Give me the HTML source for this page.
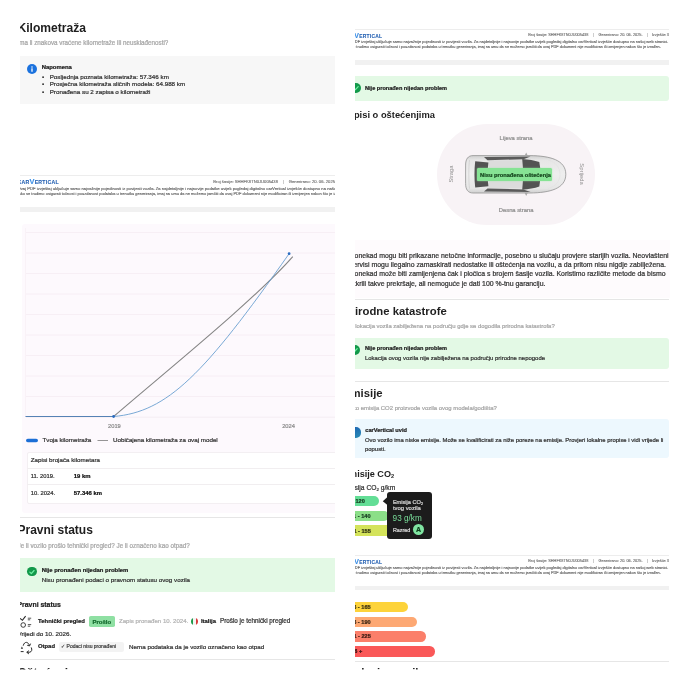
<!DOCTYPE html>
<html><head><meta charset="utf-8">
<style>
*{margin:0;padding:0;box-sizing:border-box}
html,body{width:690px;height:690px;background:#fff;overflow:hidden}
body{position:relative;font-family:"Liberation Sans",Arial,sans-serif;color:#222}
.col{position:absolute;left:0;top:0;width:690px;height:690px;overflow:hidden}
#L{clip-path:inset(20px 355px 20.5px 20px)}
#R{clip-path:inset(20px 20px 20.5px 355px)}
.a{position:absolute;white-space:nowrap;line-height:1}
.box{position:absolute}
.logo{font-weight:700;color:#2561b3;letter-spacing:0.25px;-webkit-text-stroke:0.1px #2561b3}
.lv{color:#3a8ee6;-webkit-text-stroke:0.1px #3a8ee6}
svg text{font-family:"Liberation Sans",Arial,sans-serif}
</style></head><body>
<div class="col" id="L">
<div class="a" style="left:17.50px;top:22.00px;font-size:12.1px;font-weight:700;color:#1e1e1e;">Kilometraža</div>
<div class="a" style="left:17.50px;top:40.00px;font-size:6.28px;-webkit-text-stroke:0.22px #a6a6a6;color:#a6a6a6;">Ima li znakova vraćene kilometraže ili neusklađenosti?</div>
<div class="box" style="left:17.5px;top:55.5px;width:345px;height:48.5px;background:#f7f7f7;border-radius:3px;"></div>
<div class="box" style="left:26.70px;top:63.70px;width:10px;height:10px;background:#1b72de;border-radius:50%"></div>
<svg class="a" style="left:26.7px;top:63.7px" width="10" height="10" viewBox="0 0 10 10"><circle cx="5" cy="2.9" r="0.75" fill="#fff"/><rect x="4.35" y="4.2" width="1.3" height="3.6" rx="0.4" fill="#fff"/></svg>
<div class="a" style="left:41.70px;top:65.00px;font-size:5.92px;font-weight:700;-webkit-text-stroke:0.22px #222;color:#222;">Napomena</div>
<div class="a" style="left:42.00px;top:74.00px;font-size:6.25px;-webkit-text-stroke:0.22px #222;color:#222;">•</div>
<div class="a" style="left:49.70px;top:74.00px;font-size:6.25px;-webkit-text-stroke:0.22px #333;color:#333;">Posljednja poznata kilometraža: 57.346 km</div>
<div class="a" style="left:42.00px;top:81.00px;font-size:6.25px;-webkit-text-stroke:0.22px #222;color:#222;">•</div>
<div class="a" style="left:49.70px;top:81.00px;font-size:6.25px;-webkit-text-stroke:0.22px #333;color:#333;">Prosječna kilometraža sličnih modela: 64.988 km</div>
<div class="a" style="left:42.00px;top:89.00px;font-size:6.25px;-webkit-text-stroke:0.22px #222;color:#222;">•</div>
<div class="a" style="left:49.70px;top:89.00px;font-size:6.25px;-webkit-text-stroke:0.22px #333;color:#333;">Pronađena su 2 zapisa o kilometraži</div>
<div class="box" style="left:17.5px;top:175.0px;width:345px;height:1px;background:#ededed"></div>
<div class="a logo" style="left:17.5px;top:178px;font-size:7.41px"><span style="font-size:5.18px">CAR</span><span class="lv">V</span><span style="font-size:5.18px">ERTICAL</span></div>
<div class="a" style="left:213.3px;top:180px;font-size:4.18px;color:#6f6f6f;-webkit-text-stroke:0.12px #6f6f6f">Broj šasije: SHHFK8TN0JU005438<span style="display:inline-block;width:4.87px"></span><span style="color:#cfcfcf">|</span><span style="display:inline-block;width:4.87px"></span>Generirano: 20. 06. 2025.<span style="display:inline-block;width:4.87px"></span><span style="color:#cfcfcf">|</span><span style="display:inline-block;width:3.81px"></span>Izvješće 3</div>
<svg class="a" style="left:0;top:0;overflow:visible" width="1" height="1"><text x="17.5" y="189.6" font-size="3.95" fill="#5c5c5c" stroke="#5c5c5c" stroke-width="0.12" textLength="344" lengthAdjust="spacingAndGlyphs">Ovaj PDF izvještaj uključuje samo najvažnije pojedinosti iz povijesti vozila. Za najdetaljnije i najnovije podatke uvijek pogledaj digitalno carVertical izvješće dostupno na našoj web stranici.</text></svg>
<svg class="a" style="left:0;top:0;overflow:visible" width="1" height="1"><text x="17.5" y="194.6" font-size="3.95" fill="#5c5c5c" stroke="#5c5c5c" stroke-width="0.12" textLength="330" lengthAdjust="spacingAndGlyphs">Iako se trudimo osigurati točnost i pouzdanost podataka u trenutku generiranja, imaj na umu da ne možemo jamčiti da ovaj PDF dokument nije modificiran ili izmijenjen nakon što je izrađen.</text></svg>
<div class="box" style="left:17.5px;top:207.0px;width:345px;height:4.8668px;background:#f1f1f1;border-radius:0px;"></div>
<div class="box" style="left:22px;top:224px;width:345px;height:289px;background:#fdf9fd;border-radius:3px;"></div>
<svg class="a" style="left:0;top:0" width="690" height="690" viewBox="0 0 690 690">
<g stroke="#f5ecf3" stroke-width="0.8"><line x1="26" y1="232.5" x2="362" y2="232.5"/><line x1="26" y1="253.0" x2="362" y2="253.0"/><line x1="26" y1="273.5" x2="362" y2="273.5"/><line x1="26" y1="294.0" x2="362" y2="294.0"/><line x1="26" y1="314.5" x2="362" y2="314.5"/><line x1="26" y1="335.0" x2="362" y2="335.0"/><line x1="26" y1="355.5" x2="362" y2="355.5"/><line x1="26" y1="376.0" x2="362" y2="376.0"/><line x1="26" y1="396.5" x2="362" y2="396.5"/></g>
<line x1="25.5" y1="228" x2="25.5" y2="417" stroke="#f7f0f5" stroke-width="0.8"/>
<line x1="26" y1="417.2" x2="362" y2="417.2" stroke="#f3ebf1" stroke-width="0.8"/>
<path d="M113.6,416.5 C164.9,372.2 255,299.6 292.8,256.6" fill="none" stroke="#858585" stroke-width="1.1"/>
<path d="M25.5,416.5 L113.6,416.5" fill="none" stroke="#5582b5" stroke-width="1.2"/>
<path d="M113.6,416.5 C167.4,412.1 204.4,374.2 289.1,253.7" fill="none" stroke="#6a9fd0" stroke-width="0.9"/>
<circle cx="113.6" cy="416.5" r="1.4" fill="#2b6cc0"/>
<circle cx="289.1" cy="253.7" r="1.4" fill="#2b6cc0"/>
<rect x="26" y="438.7" width="12" height="3.6" rx="1.8" fill="#1c6fd6"/>
<line x1="97.5" y1="440.5" x2="108" y2="440.5" stroke="#7a7a7a" stroke-width="0.8"/>
</svg>
<div class="a" style="left:14.40px;width:200px;text-align:center;top:424.00px;font-size:5.73px;-webkit-text-stroke:0.22px #8c8c8c;color:#8c8c8c;">2019</div>
<div class="a" style="left:188.50px;width:200px;text-align:center;top:424.00px;font-size:5.73px;-webkit-text-stroke:0.22px #8c8c8c;color:#8c8c8c;">2024</div>
<div class="a" style="left:42.50px;top:437.00px;font-size:6.22px;-webkit-text-stroke:0.22px #333;color:#333;">Tvoja kilometraža</div>
<div class="a" style="left:113.00px;top:437.00px;font-size:6.22px;-webkit-text-stroke:0.22px #333;color:#333;">Uobičajena kilometraža za ovaj model</div>
<div class="box" style="left:26.5px;top:451.5px;width:330px;height:52.5px;background:#fff;border-radius:2px;border:0.7px solid #f3eff2"></div>
<div class="box" style="left:27px;top:468.3px;width:330px;height:1px;background:#f1eef0"></div>
<div class="box" style="left:27px;top:484.3px;width:330px;height:1px;background:#f1eef0"></div>
<div class="a" style="left:30.80px;top:457.00px;font-size:6.23px;-webkit-text-stroke:0.22px #333;color:#333;">Zapisi brojača kilometara</div>
<div class="a" style="left:30.80px;top:474.00px;font-size:5.85px;-webkit-text-stroke:0.22px #333;color:#333;">11. 2019.</div>
<div class="a" style="left:73.80px;top:474.00px;font-size:5.9px;font-weight:700;-webkit-text-stroke:0.22px #111;color:#111;">19 km</div>
<div class="a" style="left:30.80px;top:491.00px;font-size:5.85px;-webkit-text-stroke:0.22px #333;color:#333;">10. 2024.</div>
<div class="a" style="left:73.80px;top:491.00px;font-size:5.9px;font-weight:700;-webkit-text-stroke:0.22px #111;color:#111;">57.346 km</div>
<div class="box" style="left:17.5px;top:517.0px;width:345px;height:1px;background:#e6e6e6"></div>
<div class="a" style="left:17.50px;top:524.00px;font-size:12.0px;font-weight:700;color:#1e1e1e;">Pravni status</div>
<div class="a" style="left:17.50px;top:543.00px;font-size:6.3px;-webkit-text-stroke:0.22px #a6a6a6;color:#a6a6a6;">Je li vozilo prošlo tehnički pregled? Je li označeno kao otpad?</div>
<div class="box" style="left:17.5px;top:558.3px;width:345px;height:33.4px;background:#e3f9e5;border-radius:3px;"></div>
<div class="box" style="left:26.80px;top:566.60px;width:9.8px;height:9.8px;background:#12994a;border-radius:50%"></div>
<svg class="a" style="left:26.80px;top:566.60px" width="9.8" height="9.8" viewBox="0 0 10 10"><path d="M2.9,5.2 L4.4,6.7 L7.2,3.6" fill="none" stroke="#6ff0a4" stroke-width="1.25" stroke-linecap="round" stroke-linejoin="round"/></svg>
<div class="a" style="left:41.70px;top:568.00px;font-size:5.92px;font-weight:700;-webkit-text-stroke:0.22px #1d1d1d;color:#1d1d1d;">Nije pronađen nijedan problem</div>
<div class="a" style="left:41.70px;top:577.00px;font-size:6.26px;-webkit-text-stroke:0.22px #333;color:#333;">Nisu pronađeni podaci o pravnom statusu ovog vozila</div>
<div class="a" style="left:17.50px;top:602.00px;font-size:6.9px;font-weight:700;-webkit-text-stroke:0.22px #222;color:#222;">Pravni status</div>
<svg class="a" style="left:18px;top:614.5px" width="16" height="14" viewBox="0 0 16 14">
<path d="M2.1,3.4 L4.4,5.3 L7.6,1.1" fill="none" stroke="#2a2a2a" stroke-width="1.1"/>
<path d="M9.8,3.2 H13.2 M9.8,4.8 H12.2" stroke="#2a2a2a" stroke-width="0.8"/>
<circle cx="5.2" cy="10" r="2.3" fill="none" stroke="#2a2a2a" stroke-width="0.9"/>
<path d="M9.8,9.6 H13.2 M9.8,11.2 H12.2" stroke="#2a2a2a" stroke-width="0.8"/>
</svg>
<div class="a" style="left:38.00px;top:619.00px;font-size:5.97px;font-weight:700;-webkit-text-stroke:0.22px #222;color:#222;">Tehnički pregled</div>
<div class="box" style="left:88.7px;top:616.2px;width:26.3px;height:10.5px;background:#8fe0a3;border-radius:1.8px;"></div>
<div class="a" style="left:1.85px;width:200px;text-align:center;top:619.00px;font-size:6.0px;font-weight:700;-webkit-text-stroke:0.22px #146a2e;color:#146a2e;">Prošlo</div>
<div class="a" style="left:119.00px;top:618.00px;font-size:6.08px;-webkit-text-stroke:0.22px #b3b3b3;color:#b3b3b3;">Zapis pronađen 10. 2024.</div>
<div class="box" style="left:191.4px;top:617.9px;width:6.8px;height:6.8px;border-radius:50%;background:linear-gradient(90deg,#1f9a4a 0 33%,#f4f4f4 33% 67%,#d83b3b 67%)"></div>
<div class="a" style="left:200.90px;top:619.00px;font-size:5.91px;font-weight:700;-webkit-text-stroke:0.22px #222;color:#222;">Italija</div>
<div class="a" style="left:220.00px;top:618.00px;font-size:6.3px;-webkit-text-stroke:0.22px #333;color:#333;">Prošlo je tehnički pregled</div>
<div class="a" style="left:17.50px;top:631.00px;font-size:6.25px;-webkit-text-stroke:0.22px #333;color:#333;">Vrijedi do 10. 2026.</div>
<svg class="a" style="left:0;top:0" width="690" height="690" viewBox="0 0 690 690">
<g fill="none" stroke="#2a2a2a" stroke-width="1" stroke-linecap="round" stroke-linejoin="round">
<path d="M23.3,645.3 C23.8,643.2 25.2,642.2 26.6,642.4 C27.8,642.6 28.6,643.6 29.4,645.2"/>
<path d="M27.6,645.4 L29.6,645.9 L30.4,644"/>
<path d="M31.4,647.8 C32.3,649.6 31.9,651.7 29.8,652.2 L27.2,652.3"/>
<path d="M28.6,650.9 L26.8,652.3 L28.6,653.7"/>
</g>
<path d="M21.9,646.4 L23.1,648.7 L20.8,648.7 Z" fill="#2a2a2a"/>
<path d="M20.7,651.6 H23.6" stroke="#2a2a2a" stroke-width="1"/>
</svg>
<div class="a" style="left:38.00px;top:644.00px;font-size:5.89px;font-weight:700;-webkit-text-stroke:0.22px #222;color:#222;">Otpad</div>
<div class="box" style="left:59px;top:641.6px;width:65px;height:10.2px;background:#f3f3f3;border-radius:2.2px;"></div>
<div class="a" style="left:61.20px;top:644.00px;font-size:5.0px;-webkit-text-stroke:0.22px #444;color:#444;">✓ Podaci nisu pronađeni</div>
<div class="a" style="left:129.00px;top:644.00px;font-size:6.26px;-webkit-text-stroke:0.22px #333;color:#333;">Nema podataka da je vozilo označeno kao otpad</div>
<div class="box" style="left:17.5px;top:659.0px;width:345px;height:1px;background:#e6e6e6"></div>
<div class="a" style="left:17.50px;top:667.00px;font-size:12.0px;font-weight:700;color:#1e1e1e;">Oštećenja</div>
</div>
<div class="col" id="R">
<div class="box" style="left:343px;top:29.3px;width:326px;height:1px;background:#ededed"></div>
<div class="a logo" style="left:343px;top:32px;font-size:7.00px"><span style="font-size:4.90px">CAR</span><span class="lv">V</span><span style="font-size:4.90px">ERTICAL</span></div>
<div class="a" style="left:528.3px;top:34px;font-size:3.86px;color:#6f6f6f;-webkit-text-stroke:0.12px #6f6f6f">Broj šasije: SHHFK8TN0JU005438<span style="display:inline-block;width:4.60px"></span><span style="color:#cfcfcf">|</span><span style="display:inline-block;width:4.60px"></span>Generirano: 20. 06. 2025.<span style="display:inline-block;width:4.60px"></span><span style="color:#cfcfcf">|</span><span style="display:inline-block;width:3.60px"></span>Izvješće 3</div>
<svg class="a" style="left:0;top:0;overflow:visible" width="1" height="1"><text x="343" y="43.3" font-size="3.72" fill="#5c5c5c" stroke="#5c5c5c" stroke-width="0.12" textLength="325.3" lengthAdjust="spacingAndGlyphs">Ovaj PDF izvještaj uključuje samo najvažnije pojedinosti iz povijesti vozila. Za najdetaljnije i najnovije podatke uvijek pogledaj digitalno carVertical izvješće dostupno na našoj web stranici.</text></svg>
<svg class="a" style="left:0;top:0;overflow:visible" width="1" height="1"><text x="343" y="47.9" font-size="3.72" fill="#5c5c5c" stroke="#5c5c5c" stroke-width="0.12" textLength="317.8" lengthAdjust="spacingAndGlyphs">Iako se trudimo osigurati točnost i pouzdanost podataka u trenutku generiranja, imaj na umu da ne možemo jamčiti da ovaj PDF dokument nije modificiran ili izmijenjen nakon što je izrađen.</text></svg>
<div class="box" style="left:343px;top:60.0px;width:326px;height:4.6px;background:#f1f1f1;border-radius:0px;"></div>
<div class="box" style="left:343px;top:75.8px;width:326px;height:25px;background:#e3f9e5;border-radius:3px;"></div>
<div class="box" style="left:350.50px;top:83.20px;width:10px;height:10px;background:#12994a;border-radius:50%"></div>
<svg class="a" style="left:350.50px;top:83.20px" width="10" height="10" viewBox="0 0 10 10"><path d="M2.9,5.2 L4.4,6.7 L7.2,3.6" fill="none" stroke="#6ff0a4" stroke-width="1.25" stroke-linecap="round" stroke-linejoin="round"/></svg>
<div class="a" style="left:365.00px;top:86.00px;font-size:5.6px;font-weight:700;-webkit-text-stroke:0.22px #1d1d1d;color:#1d1d1d;">Nije pronađen nijedan problem</div>
<div class="a" style="left:343.00px;top:111.00px;font-size:9.35px;font-weight:700;color:#1e1e1e;">Zapisi o oštećenjima</div>
<div class="box" style="left:437px;top:123.7px;width:158.2px;height:101.7px;background:#f8f3f6;border-radius:51px;"></div>
<div class="a" style="left:416.10px;width:200px;text-align:center;top:136.00px;font-size:5.82px;-webkit-text-stroke:0.22px #8e8e8e;color:#8e8e8e;">Lijeva strana</div>
<div class="a" style="left:416.10px;width:200px;text-align:center;top:208.00px;font-size:5.82px;-webkit-text-stroke:0.22px #8e8e8e;color:#8e8e8e;">Desna strana</div>
<div class="a" style="left:452.2px;top:173.6px;font-size:5.82px;color:#8e8e8e;transform:translate(-50%,-50%) rotate(-90deg)">Straga</div>
<div class="a" style="left:581px;top:174.2px;font-size:5.82px;color:#8e8e8e;transform:translate(-50%,-50%) rotate(90deg)">Sprijeda</div>
<svg class="a" style="left:0;top:0" width="690" height="690" viewBox="0 0 690 690">
<defs><linearGradient id="cb" x1="0" y1="0" x2="0" y2="1"><stop offset="0" stop-color="#cfcfcf"/><stop offset="0.12" stop-color="#e6e6e6"/><stop offset="0.5" stop-color="#eeeeee"/><stop offset="0.88" stop-color="#e6e6e6"/><stop offset="1" stop-color="#cfcfcf"/></linearGradient></defs>
<path d="M473,155.6 L530,155.6 C550,155.8 565.8,160 565.8,174.3 C565.8,188.6 550,192.8 530,193 L473,193 C468,193 465.6,189.5 465.6,183.5 L465.6,165.1 C465.6,159.1 468,155.6 473,155.6 Z" fill="url(#cb)" stroke="#939393" stroke-width="0.8"/>
<rect x="488.4" y="160.3" width="34" height="28" fill="#dcdcdc"/>
<path d="M469.5,160 C468.6,166 468.6,182 469.5,188.6" fill="none" stroke="#c8c8c8" stroke-width="0.6"/>
<path d="M475.2,161.3 L488.4,162.4 C487.4,170 487.4,178.6 488.4,186.3 L475.2,187.4 C474.2,179 474.2,170 475.2,161.3 Z" fill="#535353"/>
<path d="M522.2,158.9 C528.5,159.3 534.5,160.3 539.3,162 C540.9,170 540.9,178.6 539.3,186.6 C534.5,188.3 528.5,189.3 522.2,189.7 C523.3,179.5 523.3,169 522.2,158.9 Z" fill="#535353"/>
<path d="M484,157.1 L530.5,156.5 L523.5,159.2 L487.5,160.2 Z" fill="#5a5a5a"/>
<path d="M484,191.5 L530.5,192.1 L523.5,189.4 L487.5,188.4 Z" fill="#5a5a5a"/>
<path d="M524.6,155.8 L526.2,152.6 L527.8,155.8 Z M524.6,192.8 L526.2,196 L527.8,192.8 Z" fill="#a8a8a8"/>
<path d="M548,160 C556,162 560,168 560,174.3 C560,180.6 556,186.6 548,188.6" fill="none" stroke="#e2e2e2" stroke-width="0.7"/>
</svg>
<div class="box" style="left:477.3px;top:168.3px;width:75.2px;height:12.5px;background:#86e394;border-radius:1.5px;box-shadow:0 0 1.5px #9ee8a8"></div>
<div class="a" style="left:415.50px;width:200px;text-align:center;top:173.00px;font-size:5.7px;font-weight:700;-webkit-text-stroke:0.22px #17471f;color:#17471f;">Nisu pronađena oštećenja</div>
<div class="box" style="left:343px;top:240px;width:328px;height:57.5px;background:#fefbfd;border-radius:0px;"></div>
<div class="a" style="left:350.00px;top:253.00px;font-size:6.92px;-webkit-text-stroke:0.22px #333;color:#333;">Ponekad mogu biti prikazane netočne informacije, posebno u slučaju provjere starijih vozila. Neovlašteni</div>
<div class="a" style="left:350.00px;top:262.00px;font-size:6.92px;-webkit-text-stroke:0.22px #333;color:#333;">servisi mogu ilegalno zamaskirati nedostatke ili oštećenja na vozilu, a da pritom nisu nigdje zabilježena.</div>
<div class="a" style="left:350.00px;top:271.00px;font-size:6.92px;-webkit-text-stroke:0.22px #333;color:#333;">Ponekad može biti zamijenjena čak i pločica s brojem šasije vozila. Koristimo različite metode da bismo</div>
<div class="a" style="left:350.00px;top:281.00px;font-size:6.92px;-webkit-text-stroke:0.22px #333;color:#333;">otkrili takve prekršaje, ali nemoguće je dati 100 %-tnu garanciju.</div>
<div class="box" style="left:343px;top:299.3px;width:326px;height:1px;background:#e6e6e6"></div>
<div class="a" style="left:343.00px;top:306.00px;font-size:11.32px;font-weight:700;color:#1e1e1e;">Prirodne katastrofe</div>
<div class="a" style="left:343.00px;top:324.00px;font-size:5.93px;-webkit-text-stroke:0.22px #a6a6a6;color:#a6a6a6;">Je li lokacija vozila zabilježena na području gdje se dogodila prirodna katastrofa?</div>
<div class="box" style="left:343px;top:337.5px;width:326px;height:31.7px;background:#e3f9e5;border-radius:3px;"></div>
<div class="box" style="left:350.30px;top:345.20px;width:10px;height:10px;background:#12994a;border-radius:50%"></div>
<svg class="a" style="left:350.30px;top:345.20px" width="10" height="10" viewBox="0 0 10 10"><path d="M2.9,5.2 L4.4,6.7 L7.2,3.6" fill="none" stroke="#6ff0a4" stroke-width="1.25" stroke-linecap="round" stroke-linejoin="round"/></svg>
<div class="a" style="left:365.00px;top:346.00px;font-size:5.6px;font-weight:700;-webkit-text-stroke:0.22px #1d1d1d;color:#1d1d1d;">Nije pronađen nijedan problem</div>
<div class="a" style="left:365.00px;top:356.00px;font-size:5.96px;-webkit-text-stroke:0.22px #333;color:#333;">Lokacija ovog vozila nije zabilježena na području prirodne nepogode</div>
<div class="box" style="left:343px;top:381.3px;width:326px;height:1px;background:#e6e6e6"></div>
<div class="a" style="left:343.00px;top:388.00px;font-size:11.32px;font-weight:700;color:#1e1e1e;">Emisije</div>
<div class="a" style="left:343.00px;top:406.00px;font-size:5.93px;-webkit-text-stroke:0.22px #a6a6a6;color:#a6a6a6;">Koliko emisija CO2 proizvode vozila ovog modela/godišta?</div>
<div class="box" style="left:343px;top:419.2px;width:326px;height:39px;background:#edf8fe;border-radius:3px;"></div>
<div class="box" style="left:350.70px;top:427.10px;width:10.6px;height:10.6px;background:linear-gradient(160deg,#1b63b3,#2b8db5);border-radius:50%"></div>
<div class="a" style="left:365.30px;top:428.00px;font-size:5.63px;font-weight:700;-webkit-text-stroke:0.22px #1d1d1d;color:#1d1d1d;">carVertical uvid</div>
<div class="a" style="left:365.00px;top:438.00px;font-size:5.92px;-webkit-text-stroke:0.22px #333;color:#333;">Ovo vozilo ima niske emisije. Može se kvalificirati za niže poreze na emisije. Provjeri lokalne propise i vidi vrijede li</div>
<div class="a" style="left:365.00px;top:447.00px;font-size:5.92px;-webkit-text-stroke:0.22px #333;color:#333;">popusti.</div>
<div class="a" style="left:343.00px;top:470.00px;font-size:9.1px;font-weight:700;color:#1e1e1e;">Emisije CO<sub style="font-size:62%;vertical-align:-1.2px">2</sub></div>
<div class="a" style="left:343.00px;top:485.00px;font-size:6.7px;-webkit-text-stroke:0.22px #333;color:#333;">Emisija CO<sub style="font-size:65%;vertical-align:-0.9px">2</sub> g/km</div>
<div class="box" style="left:343px;top:496.0px;width:36.30000000000001px;height:10.4px;background:#63de96;border-radius:0px;border-radius:0 5.2px 5.2px 0"></div>
<div class="a" style="left:347.41px;top:499.00px;font-size:5.6px;font-weight:700;-webkit-text-stroke:0.22px #15391f;color:#15391f;">0 - 120</div>
<div class="box" style="left:343px;top:510.5px;width:45.5px;height:10.9px;background:#8bdf88;border-radius:0px;border-radius:0 5.45px 5.45px 0"></div>
<div class="a" style="left:346.88px;top:514.00px;font-size:5.6px;font-weight:700;-webkit-text-stroke:0.22px #15391f;color:#15391f;">121 - 140</div>
<div class="box" style="left:343px;top:525.4px;width:54.5px;height:10.7px;background:#d4e35a;border-radius:0px;border-radius:0 5.35px 5.35px 0"></div>
<div class="a" style="left:347.18px;top:529.00px;font-size:5.6px;font-weight:700;-webkit-text-stroke:0.22px #2c3010;color:#2c3010;">141 - 155</div>
<div class="box" style="left:387.2px;top:492.2px;width:44.7px;height:47.3px;background:#1c1c1c;border-radius:3px;"></div>
<svg class="a" style="left:382px;top:496px" width="6" height="10" viewBox="0 0 6 10"><path d="M6,0.6 L0.8,5.3 L6,9.6 Z" fill="#1c1c1c"/></svg>
<div class="a" style="left:392.90px;top:500.00px;font-size:5.6px;-webkit-text-stroke:0.22px #d8d8d8;color:#d8d8d8;">Emisija CO<sub style="font-size:65%;vertical-align:-0.6px">2</sub></div>
<div class="a" style="left:392.90px;top:506.00px;font-size:5.9px;-webkit-text-stroke:0.22px #d8d8d8;color:#d8d8d8;">tvog vozila</div>
<div class="a" style="left:392.60px;top:515.00px;font-size:8.2px;color:#78dc99;">93 g/km</div>
<div class="a" style="left:392.90px;top:528.00px;font-size:5.4px;-webkit-text-stroke:0.22px #d8d8d8;color:#d8d8d8;">Razred</div>
<div class="box" style="left:412.70px;top:523.70px;width:11.6px;height:11.6px;background:#80e5a2;border-radius:50%"></div>
<div class="a" style="left:318.50px;width:200px;text-align:center;top:526.00px;font-size:7.0px;font-weight:700;-webkit-text-stroke:0.22px #0c3f1b;color:#0c3f1b;">A</div>
<div class="box" style="left:343px;top:555.3px;width:326px;height:1px;background:#ededed"></div>
<div class="a logo" style="left:343px;top:558px;font-size:7.00px"><span style="font-size:4.90px">CAR</span><span class="lv">V</span><span style="font-size:4.90px">ERTICAL</span></div>
<div class="a" style="left:528.3px;top:560px;font-size:3.86px;color:#6f6f6f;-webkit-text-stroke:0.12px #6f6f6f">Broj šasije: SHHFK8TN0JU005438<span style="display:inline-block;width:4.60px"></span><span style="color:#cfcfcf">|</span><span style="display:inline-block;width:4.60px"></span>Generirano: 20. 06. 2025.<span style="display:inline-block;width:4.60px"></span><span style="color:#cfcfcf">|</span><span style="display:inline-block;width:3.60px"></span>Izvješće 3</div>
<svg class="a" style="left:0;top:0;overflow:visible" width="1" height="1"><text x="343" y="569.3" font-size="3.72" fill="#5c5c5c" stroke="#5c5c5c" stroke-width="0.12" textLength="325.3" lengthAdjust="spacingAndGlyphs">Ovaj PDF izvještaj uključuje samo najvažnije pojedinosti iz povijesti vozila. Za najdetaljnije i najnovije podatke uvijek pogledaj digitalno carVertical izvješće dostupno na našoj web stranici.</text></svg>
<svg class="a" style="left:0;top:0;overflow:visible" width="1" height="1"><text x="343" y="573.9" font-size="3.72" fill="#5c5c5c" stroke="#5c5c5c" stroke-width="0.12" textLength="317.8" lengthAdjust="spacingAndGlyphs">Iako se trudimo osigurati točnost i pouzdanost podataka u trenutku generiranja, imaj na umu da ne možemo jamčiti da ovaj PDF dokument nije modificiran ili izmijenjen nakon što je izrađen.</text></svg>
<div class="box" style="left:343px;top:585.7px;width:326px;height:4.6px;background:#f1f1f1;border-radius:0px;"></div>
<div class="box" style="left:343px;top:601.5px;width:65.0px;height:10.3px;background:#fdd33a;border-radius:0px;border-radius:0 5.15px 5.15px 0"></div>
<div class="a" style="left:346.98px;top:605.00px;font-size:5.6px;font-weight:700;-webkit-text-stroke:0.22px #3a3010;color:#3a3010;">156 - 165</div>
<div class="box" style="left:343px;top:616.5px;width:73.69999999999999px;height:10.1px;background:#fda873;border-radius:0px;border-radius:0 5.05px 5.05px 0"></div>
<div class="a" style="left:346.98px;top:620.00px;font-size:5.6px;font-weight:700;-webkit-text-stroke:0.22px #3a2512;color:#3a2512;">166 - 190</div>
<div class="box" style="left:343px;top:631.3px;width:82.89999999999998px;height:10.4px;background:#fb7f6a;border-radius:0px;border-radius:0 5.2px 5.2px 0"></div>
<div class="a" style="left:347.18px;top:634.00px;font-size:5.6px;font-weight:700;-webkit-text-stroke:0.22px #3a1a12;color:#3a1a12;">191 - 225</div>
<div class="box" style="left:343px;top:646.1px;width:92.0px;height:10.6px;background:#fa5858;border-radius:0px;border-radius:0 5.3px 5.3px 0"></div>
<div class="a" style="left:348.10px;top:649.00px;font-size:5.6px;font-weight:700;-webkit-text-stroke:0.22px #3a1212;color:#3a1212;">226 +</div>
<div class="box" style="left:343px;top:661.0px;width:326px;height:1px;background:#e6e6e6"></div>
<div class="a" style="left:343.00px;top:667.00px;font-size:11.32px;font-weight:700;color:#1e1e1e;">Podaci o vozilu</div>
</div>
</body></html>
